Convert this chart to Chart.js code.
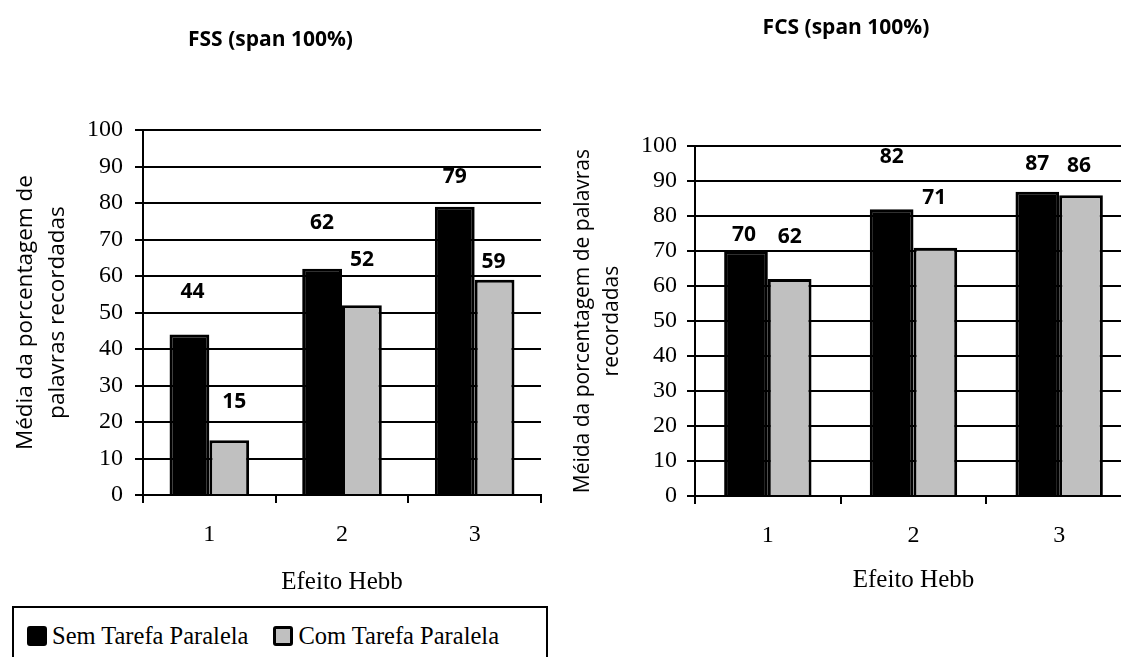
<!DOCTYPE html>
<html>
<head>
<meta charset="utf-8">
<script src="https://cdn.jsdelivr.net/npm/chart.js@4.4.1/dist/chart.umd.min.js"></script>
<style>
  html, body { margin: 0; padding: 0; background: #fff; overflow: hidden; }
  #page { position: relative; width: 1121px; height: 657px; overflow: hidden; background: #fff; }
  canvas { position: absolute; top: 0; }
  #fss { left: 0; }
  #fcs { left: 560px; }
  #legend {
    position: absolute; left: 12px; top: 606px; width: 536px; height: 80px;
    border: 2px solid #000; box-sizing: border-box;
    font-family: "Liberation Serif", "Times New Roman", serif; font-size: 24.5px; color: #000;
    display: flex; align-items: flex-start; padding: 14px 0 0 13px;
  }
  .item { display: flex; align-items: center; margin-right: 25px; white-space: nowrap; }
  .swatch { width: 20px; height: 20px; box-sizing: border-box; border: 3px solid #000; border-radius: 3px; margin-right: 5px; }
</style>
</head>
<body>
<div id="page">
  <canvas id="fss" width="560" height="600"></canvas>
  <canvas id="fcs" width="572" height="600"></canvas>
  <div id="legend"></div>
</div>
<script>
// Hebb effect categories and the two conditions
const categories = ['1', '2', '3'];
const seriesNames = ['Sem Tarefa Paralela', 'Com Tarefa Paralela'];

// FSS (span 100%) – mean % of recalled words
const fssSem = [44, 62, 79];
const fssCom = [15, 52, 59];

// FCS (span 100%) – mean % of recalled words
const fcsSem = [70, 82, 87];
const fcsCom = [62, 71, 86];

const seriesFill = ['#000000', '#c0c0c0'];
const SERIF = '"Liberation Serif", "Times New Roman", serif';
const SANS = '"Open Sans", sans-serif';

Chart.defaults.color = '#000';

// Writes each bar's value above it, shifted by the per-bar offset given in options
const valueLabels = {
  id: 'valueLabels',
  afterDatasetsDraw(chart, args, opts) {
    const ctx = chart.ctx;
    ctx.save();
    ctx.font = opts.font;
    ctx.fillStyle = '#000';
    ctx.textAlign = 'center';
    ctx.textBaseline = 'middle';
    chart.data.datasets.forEach((ds, i) => {
      chart.getDatasetMeta(i).data.forEach((bar, j) => {
        const off = opts.offsets[i][j];
        ctx.fillText(String(ds.data[j]), bar.x + off[0], bar.y + off[1]);
      });
    });
    ctx.restore();
  }
};

function makeChart(id, cfg) {
  return new Chart(document.getElementById(id), {
    type: 'bar',
    data: {
      labels: categories,
      datasets: [
        { label: seriesNames[0], data: cfg.sem, backgroundColor: seriesFill[0], borderColor: '#000', borderWidth: 3 },
        { label: seriesNames[1], data: cfg.com, backgroundColor: seriesFill[1], borderColor: '#000', borderWidth: 3 }
      ]
    },
    plugins: [valueLabels],
    options: {
      responsive: false,
      animation: false,
      devicePixelRatio: 1,
      layout: { padding: { left: 0, right: cfg.padRight, top: 0, bottom: 0 } },
      datasets: { bar: { barPercentage: 1.0, categoryPercentage: 0.6 } },
      plugins: {
        legend: { display: false },
        tooltip: { enabled: false },
        title: {
          display: true,
          text: cfg.title,
          color: '#000',
          font: { family: SANS, weight: 'bold', size: 21, lineHeight: 1.2 },
          padding: cfg.titlePad
        },
        valueLabels: { font: 'bold 21px "Open Sans"', offsets: cfg.labelOffsets }
      },
      scales: {
        x: {
          grid: { display: true, drawOnChartArea: false, drawTicks: true, tickLength: 8, color: '#000', lineWidth: 2, offset: true },
          border: { display: true, color: '#000', width: 2 },
          ticks: { font: { family: SERIF, size: 24 }, padding: cfg.xTickPad, color: '#000' },
          title: {
            display: true, text: 'Efeito Hebb', color: '#000',
            font: { family: SERIF, size: 25, lineHeight: 1.2 },
            padding: { top: 0, bottom: cfg.xTitlePad }
          },
          afterFit: (s) => { s.height = cfg.xHeight; }
        },
        y: {
          min: 0, max: 100,
          grid: { color: '#000', lineWidth: 2, drawTicks: true, tickLength: 8 },
          border: { display: true, color: '#000', width: 2 },
          ticks: { stepSize: 10, font: { family: SERIF, size: 24 }, padding: cfg.yTickPad, color: '#000' },
          title: {
            display: true, text: cfg.yTitle, color: '#000',
            font: { family: SANS, size: cfg.yTitleSize, lineHeight: 1.4 },
            padding: { top: cfg.yTitlePad, bottom: 0 }
          },
          afterFit: (s) => { s.width = cfg.yWidth; }
        }
      }
    }
  });
}

makeChart('fss', {
  sem: fssSem, com: fssCom,
  title: 'FSS (span 100%)',
  titlePad: { top: 27, bottom: 78 },
  padRight: 19,
  yTitle: ['Média da porcentagem de', 'palavras recordadas'],
  yTitleSize: 22.5, yTitlePad: 10,
  yWidth: 143, yTickPad: 12,
  xHeight: 105, xTickPad: 17, xTitlePad: 3,
  labelOffsets: [[[3, -42], [0, -46], [0, -30]], [[5, -38], [0, -45], [-1, -18]]]
});

makeChart('fcs', {
  sem: fcsSem, com: fcsCom,
  title: 'FCS (span 100%)',
  titlePad: { top: 15, bottom: 106 },
  padRight: 0,
  yTitle: ['Méida da porcentagem de palavras', 'recordadas'],
  yTitleSize: 21, yTitlePad: 8,
  yWidth: 135, yTickPad: 10,
  xHeight: 104, xTickPad: 17, xTitlePad: 5,
  labelOffsets: [[[-2, -16], [0, -52], [0, -28]], [[0, -42], [-1, -50], [-2, -29]]]
});

// Shared legend under the left chart
const legend = document.getElementById('legend');
seriesNames.forEach((name, i) => {
  const item = document.createElement('div');
  item.className = 'item';
  const sw = document.createElement('span');
  sw.className = 'swatch';
  sw.style.background = seriesFill[i];
  const tx = document.createElement('span');
  tx.textContent = name;
  item.appendChild(sw);
  item.appendChild(tx);
  legend.appendChild(item);
});
</script>
</body>
</html>
